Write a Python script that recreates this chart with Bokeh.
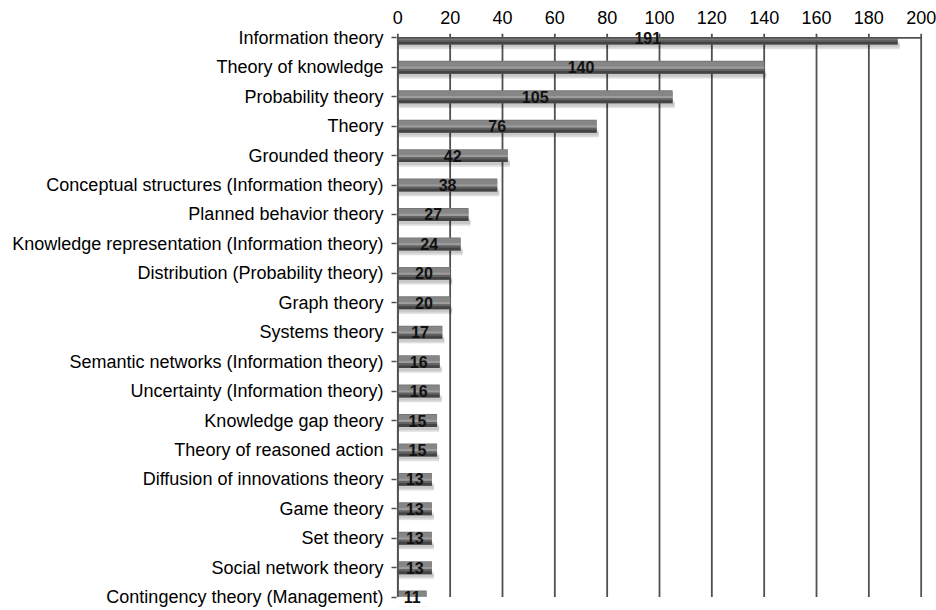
from bokeh.plotting import figure
from bokeh.models import Range1d, FixedTicker, ColumnDataSource
from bokeh.transform import dodge
from bokeh.embed import file_html
from bokeh.resources import INLINE
from bokeh.core.properties import value

# Theories and how often they occur
theories = [
    "Information theory",
    "Theory of knowledge",
    "Probability theory",
    "Theory",
    "Grounded theory",
    "Conceptual structures (Information theory)",
    "Planned behavior theory",
    "Knowledge representation (Information theory)",
    "Distribution (Probability theory)",
    "Graph theory",
    "Systems theory",
    "Semantic networks (Information theory)",
    "Uncertainty (Information theory)",
    "Knowledge gap theory",
    "Theory of reasoned action",
    "Diffusion of innovations theory",
    "Game theory",
    "Set theory",
    "Social network theory",
    "Contingency theory (Management)",
]
counts = [191, 140, 105, 76, 42, 38, 27, 24, 20, 20, 17, 16, 16, 15, 15, 13, 13, 13, 13, 11]
x_ticks = [0, 20, 40, 60, 80, 100, 120, 140, 160, 180, 200]

FONT = "Liberation Sans"
LINE = "#505050"
TEXT = "#000000"
PAD = 0.32          # extra room above the first / below the last category
first, last = 0, len(theories) - 1
x_lo, x_hi = x_ticks[0], x_ticks[-1]

pos = list(range(len(theories)))
src = ColumnDataSource(dict(
    y=pos,
    v=counts,
    half=[c / 2 for c in counts],
    shadow_right=[c + 0.8 for c in counts],
    label=[str(c) for c in counts],
))

p = figure(
    width=936, height=610,
    x_range=Range1d(x_lo - 0.5, x_hi + 0.5),
    y_range=Range1d(last + PAD, first - PAD),
    x_axis_location="above",
    output_backend="svg", toolbar_location=None,
    min_border_left=396, min_border_right=14,
    min_border_top=28, min_border_bottom=4,
)
p.outline_line_color = None
p.background_fill_color = "white"
p.border_fill_color = "white"
p.xgrid.grid_line_color = None
p.ygrid.grid_line_color = None

# top value axis: labels only, the lines are drawn in the plot area below
xa = p.xaxis[0]
xa.ticker = FixedTicker(ticks=x_ticks)
xa.axis_line_color = None
xa.major_tick_line_color = None
xa.minor_tick_line_color = None
xa.major_label_standoff = -1
xa.major_label_text_font = FONT
xa.major_label_text_font_size = "18px"
xa.major_label_text_color = TEXT

# left category axis
ya = p.yaxis[0]
ya.ticker = FixedTicker(ticks=pos)
ya.major_label_overrides = {i: t for i, t in zip(pos, theories)}
ya.axis_line_color = None
ya.major_tick_line_color = LINE
ya.major_tick_line_width = 1.5
ya.major_tick_out = 5
ya.major_tick_in = 0
ya.minor_tick_line_color = None
ya.major_label_standoff = 8
ya.major_label_text_font = FONT
ya.major_label_text_font_size = "18px"
ya.major_label_text_color = TEXT

# vertical gridlines between the first and last category
p.segment(x0=x_ticks, x1=x_ticks, y0=[first] * len(x_ticks), y1=[last] * len(x_ticks),
          line_color=LINE, line_width=1.8)

# soft drop shadow under each bar
for off, h, a in [(0.25, 0.28, 0.06), (0.27, 0.20, 0.08), (0.26, 0.12, 0.09)]:
    p.hbar(y=dodge("y", off, range=p.y_range), left=0, right="shadow_right", height=h,
           source=src, fill_color="black", fill_alpha=a, line_color=None)

# bar body with a simple tubular shading
p.hbar(y="y", left=0, right="v", height=0.44, source=src,
       fill_color="#767676", line_color=None)
p.hbar(y=dodge("y", -0.11, range=p.y_range), left=0, right="v", height=0.16, source=src,
       fill_color="#868686", line_color=None)
p.hbar(y=dodge("y", 0.01, range=p.y_range), left=0, right="v", height=0.08, source=src,
       fill_color="#9c9c9c", line_color=None)
p.hbar(y=dodge("y", 0.09, range=p.y_range), left=0, right="v", height=0.07, source=src,
       fill_color="#626262", line_color=None)
p.hbar(y=dodge("y", 0.17, range=p.y_range), left=0, right="v", height=0.10, source=src,
       fill_color="#444444", line_color=None)

# the chart area ends at the first and last category: blank out the bar halves beyond it
p.quad(left=[x_lo - 0.5, x_lo - 0.5], right=[x_hi + 0.5, x_hi + 0.5],
       top=[first - PAD, last], bottom=[first, last + PAD],
       fill_color="white", line_color=None)

# axis lines and small outward tick marks on the value axis
p.segment(x0=[x_lo], x1=[x_hi], y0=[first], y1=[first], line_color=LINE, line_width=1.8)
p.segment(x0=[x_lo], x1=[x_lo], y0=[first], y1=[last], line_color=LINE, line_width=1.8)
p.segment(x0=x_ticks, x1=x_ticks, y0=[first - 0.14] * len(x_ticks), y1=[first] * len(x_ticks),
          line_color=LINE, line_width=1.8)

# value labels centred on each bar
p.text(x="half", y="y", text="label", source=src,
       text_align="center", text_baseline="middle",
       text_font=value(FONT), text_font_size="16px", text_font_style="bold",
       text_color="#111111")

open("out.html", "w").write(file_html(p, INLINE))
